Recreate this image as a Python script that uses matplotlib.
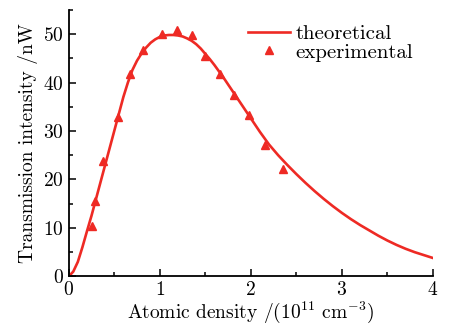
import matplotlib
matplotlib.use("Agg")
import matplotlib.pyplot as plt
from matplotlib.ticker import MultipleLocator

plt.rcParams['font.family'] = ['cmr10', 'DejaVu Serif']
plt.rcParams['mathtext.fontset'] = 'cm'
plt.rcParams['axes.formatter.use_mathtext'] = True

# theoretical curve
theo_x = [0.0, 0.05, 0.1, 0.15, 0.2, 0.25, 0.3, 0.35, 0.4, 0.45, 0.5, 0.55, 0.6,
          0.65, 0.7, 0.75, 0.8, 0.85, 0.9, 0.95, 1.0, 1.05, 1.1, 1.15, 1.2, 1.25,
          1.3, 1.35, 1.4, 1.45, 1.5, 1.55, 1.6, 1.7, 1.8, 1.9, 2.0, 2.1, 2.2, 2.3,
          2.4, 2.5, 2.6, 2.7, 2.8, 2.9, 3.0, 3.1, 3.2, 3.3, 3.4, 3.5, 3.6, 3.7,
          3.8, 3.9, 4.0]
theo_y = [0.0, 1.0, 3.0, 6.0, 9.3, 12.5, 16.0, 19.5, 23.0, 26.5, 30.0, 33.5, 37.0,
          40.0, 42.6, 44.5, 46.0, 47.2, 48.2, 48.9, 49.4, 49.7, 49.8, 49.8, 49.7,
          49.5, 49.1, 48.6, 47.9, 47.0, 45.9, 44.8, 43.6, 41.0, 38.2, 35.4, 32.6,
          29.8, 27.2, 25.0, 23.0, 21.1, 19.3, 17.6, 16.0, 14.5, 13.1, 11.8, 10.6,
          9.5, 8.4, 7.4, 6.5, 5.7, 5.0, 4.4, 3.8]

# experimental points
exp_x = [0.26, 0.29, 0.38, 0.54, 0.67, 0.82, 1.02, 1.19, 1.35, 1.50, 1.66, 1.81,
         1.98, 2.16, 2.35]
exp_y = [10.5, 15.5, 23.8, 32.8, 41.8, 46.7, 50.0, 50.8, 49.8, 45.5, 41.8, 37.5,
         33.4, 27.2, 22.1]

red = '#ee2a24'

fig = plt.figure(figsize=(4.52, 3.26), dpi=100)
ax = fig.add_axes([0.152, 0.152, 0.806, 0.818])

ax.plot(theo_x, theo_y, color=red, lw=1.9, label='theoretical', zorder=2)
ax.plot(exp_x, exp_y, linestyle='none', marker='^', color=red, markersize=5.5,
        label='experimental', zorder=3)

ax.set_xlim(0, 4)
ax.set_ylim(0, 55)
ax.xaxis.set_major_locator(MultipleLocator(1))
ax.xaxis.set_minor_locator(MultipleLocator(0.5))
ax.yaxis.set_major_locator(MultipleLocator(10))
ax.yaxis.set_minor_locator(MultipleLocator(5))
ax.tick_params(which='both', direction='in', labelsize=14, width=1.1)
ax.tick_params(which='major', length=5)
ax.tick_params(which='minor', length=3)
ax.spines['top'].set_visible(False)
ax.spines['right'].set_visible(False)
for s in ('left', 'bottom'):
    ax.spines[s].set_linewidth(1.3)

ax.set_xlabel(r'Atomic density /(10$^{11}$ cm$^{-3}$)', fontsize=14, labelpad=0)
ax.set_ylabel('Transmission intensity /nW', fontsize=14, labelpad=4)

leg = ax.legend(loc='upper right', frameon=False, fontsize=15, handlelength=2.0,
                handletextpad=0.25, labelspacing=0.0, borderaxespad=0.3,
                bbox_to_anchor=(0.985, 1.0))

fig.savefig('out.png', dpi=100)
